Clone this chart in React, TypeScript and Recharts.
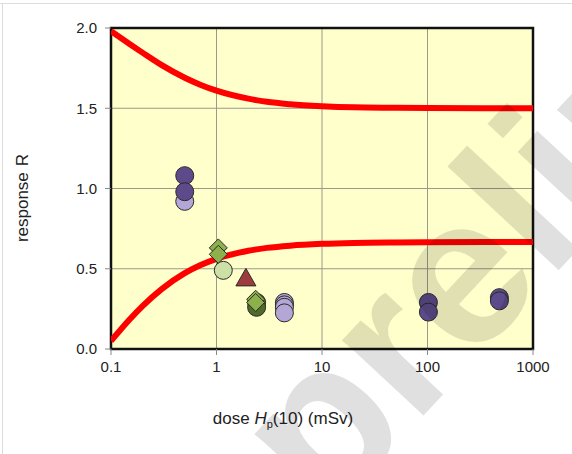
import {
  ComposedChart,
  Line,
  Scatter,
  XAxis,
  YAxis,
  CartesianGrid,
  ReferenceArea,
} from "recharts";

// dose Hp(10) in mSv, response R
const upperLimit = [
  { dose: 0.1, r: 1.98 },
  { dose: 0.15, r: 1.9 },
  { dose: 0.2, r: 1.845 },
  { dose: 0.3, r: 1.77 },
  { dose: 0.5, r: 1.69 },
  { dose: 0.7, r: 1.647 },
  { dose: 1, r: 1.61 },
  { dose: 2, r: 1.56 },
  { dose: 3, r: 1.54 },
  { dose: 5, r: 1.525 },
  { dose: 10, r: 1.513 },
  { dose: 20, r: 1.506 },
  { dose: 50, r: 1.503 },
  { dose: 100, r: 1.501 },
  { dose: 1000, r: 1.5 },
];

const lowerLimit = [
  { dose: 0.1, r: 0.05 },
  { dose: 0.15, r: 0.184 },
  { dose: 0.2, r: 0.269 },
  { dose: 0.3, r: 0.372 },
  { dose: 0.5, r: 0.473 },
  { dose: 0.7, r: 0.522 },
  { dose: 1, r: 0.562 },
  { dose: 2, r: 0.612 },
  { dose: 3, r: 0.63 },
  { dose: 5, r: 0.644 },
  { dose: 10, r: 0.655 },
  { dose: 20, r: 0.661 },
  { dose: 50, r: 0.664 },
  { dose: 100, r: 0.665 },
  { dose: 1000, r: 0.667 },
];

const lightPurple = [
  { dose: 0.5, r: 0.92 },
  { dose: 4.4, r: 0.29 },
  { dose: 4.4, r: 0.275 },
  { dose: 4.4, r: 0.26 },
  { dose: 4.4, r: 0.225 },
];

const darkPurple = [
  { dose: 0.5, r: 1.08 },
  { dose: 0.5, r: 0.98 },
  { dose: 102, r: 0.29 },
  { dose: 102, r: 0.23 },
  { dose: 480, r: 0.32 },
  { dose: 480, r: 0.3 },
];

const lightGreen = [{ dose: 1.16, r: 0.49 }];

const darkGreen = [
  { dose: 2.4, r: 0.29 },
  { dose: 2.4, r: 0.26 },
];

const greenDiamonds = [
  { dose: 1.04, r: 0.63 },
  { dose: 1.04, r: 0.59 },
  { dose: 2.35, r: 0.31 },
  { dose: 2.35, r: 0.29 },
];

const redTriangle = [{ dose: 1.9, r: 0.44 }];

const xTicks = [0.1, 1, 10, 100, 1000];
const yTicks = [0, 0.5, 1, 1.5, 2];

const FONT = "'Liberation Sans', Arial, sans-serif";

function circleShape(fill: string) {
  return (p: any) => (
    <circle cx={p.cx} cy={p.cy} r={9} fill={fill} stroke="#2a2a2a" strokeWidth={1} />
  );
}

function diamondShape(p: any) {
  const s = 9;
  return (
    <path
      d={`M${p.cx},${p.cy - s}L${p.cx + s},${p.cy}L${p.cx},${p.cy + s}L${p.cx - s},${p.cy}Z`}
      fill="#8db04c"
      stroke="#2a2a2a"
      strokeWidth={1}
    />
  );
}

function triangleShape(p: any) {
  const s = 10;
  return (
    <path
      d={`M${p.cx},${p.cy - s}L${p.cx + s},${p.cy + s * 0.75}L${p.cx - s},${p.cy + s * 0.75}Z`}
      fill="#9c3a3c"
      stroke="#2a2a2a"
      strokeWidth={1}
    />
  );
}

function XTitle() {
  return (
    <text x={283} y={424} textAnchor="middle" fontSize={17} fill="#222" fontFamily={FONT}>
      dose <tspan fontStyle="italic">H</tspan>
      <tspan fontSize={11} dy={4}>p</tspan>
      <tspan dy={-4}>(10) (mSv)</tspan>
    </text>
  );
}

function YTitle() {
  return (
    <text
      x={22}
      y={198}
      textAnchor="middle"
      fontSize={17}
      fill="#222"
      fontFamily={FONT}
      transform="rotate(-90 22 198)"
      dominantBaseline="central"
    >
      response<tspan dx={6}>R</tspan>
    </text>
  );
}

export default function App() {
  const tick = { fontSize: 15, fill: "#222", fontFamily: FONT };
  return (
    <div
      style={{
        position: "absolute",
        left: 0,
        top: 0,
        width: 572,
        height: 454,
        background: "#fff",
        overflow: "hidden",
      }}
    >
      <div style={{ position: "absolute", left: 0, top: 3, width: 572, height: 1, background: "#dcdcdc" }} />
      <div style={{ position: "absolute", left: 2, top: 3, width: 1, height: 451, background: "#dcdcdc" }} />
      <ComposedChart
        width={572}
        height={454}
        margin={{ top: 28, right: 39, left: 0, bottom: 75 }}
        style={{ position: "absolute", left: 0, top: 0 }}
      >
        <CartesianGrid
          fill="#ffffcc"
          stroke="#9a9a8a"
          strokeWidth={1}
          horizontalValues={[0.5, 1, 1.5]}
          verticalValues={[1, 10, 100]}
        />
        <XAxis
          dataKey="dose"
          type="number"
          scale="log"
          domain={[0.1, 1000]}
          ticks={xTicks}
          allowDataOverflow
          height={30}
          tick={tick}
          tickSize={6}
          tickMargin={6}
          tickLine={{ stroke: "#888" }}
          axisLine={false}
          label={<XTitle />}
        />
        <YAxis
          dataKey="r"
          type="number"
          domain={[0, 2]}
          ticks={yTicks}
          allowDataOverflow
          width={111}
          tick={tick}
          tickFormatter={(v: number) => v.toFixed(1)}
          tickSize={6}
          tickMargin={8}
          tickLine={{ stroke: "#888" }}
          axisLine={false}
          label={<YTitle />}
        />
        <ReferenceArea x1={0.1} x2={1000} y1={0} y2={2} fill="none" stroke="#111" strokeWidth={2.5} />
        <Line
          data={upperLimit}
          dataKey="r"
          type="monotone"
          stroke="#ff0000"
          strokeWidth={6}
          dot={false}
          activeDot={false}
          isAnimationActive={false}
        />
        <Line
          data={lowerLimit}
          dataKey="r"
          type="monotone"
          stroke="#ff0000"
          strokeWidth={6}
          dot={false}
          activeDot={false}
          isAnimationActive={false}
        />
        <Scatter data={lightPurple} dataKey="r" shape={circleShape("#b4a7d6")} isAnimationActive={false} />
        <Scatter data={darkPurple} dataKey="r" shape={circleShape("#5c4a8a")} isAnimationActive={false} />
        <Scatter data={lightGreen} dataKey="r" shape={circleShape("#cde0a6")} isAnimationActive={false} />
        <Scatter data={darkGreen} dataKey="r" shape={circleShape("#4f6a2a")} isAnimationActive={false} />
        <Scatter data={greenDiamonds} dataKey="r" shape={diamondShape} isAnimationActive={false} />
        <Scatter data={redTriangle} dataKey="r" shape={triangleShape} isAnimationActive={false} />
      </ComposedChart>
      <svg
        width={572}
        height={454}
        style={{ position: "absolute", left: 0, top: 0, pointerEvents: "none" }}
      >
        <text
          x={326}
          y={520}
          fontSize={210}
          fontWeight="bold"
          fontFamily={FONT}
          fill="rgba(0,0,0,0.12)"
          transform="rotate(-47 326 520)"
        >
          preliminary
        </text>
      </svg>
    </div>
  );
}
